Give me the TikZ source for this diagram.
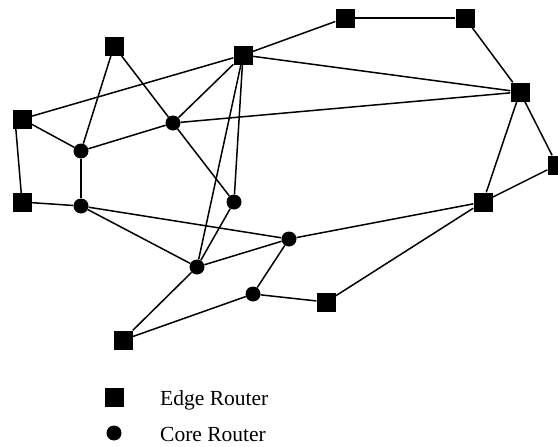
\documentclass[tikz,border=0pt]{standalone}
\usepackage{fontspec}
\setmainfont{Liberation Serif}
\begin{document}
\begin{tikzpicture}[x=1pt,y=-1pt,
  edgerouter/.style={rectangle,fill=black,inner sep=0pt,minimum size=19pt},
  corerouter/.style={circle,fill=black,inner sep=0pt,minimum size=15pt},
  link/.style={line width=1.5pt,black},
  legendtext/.style={anchor=base west,inner sep=0pt,font=\fontsize{21.5}{26}\selectfont}]
\useasboundingbox (0,0) rectangle (558,447);
\clip (0,0) rectangle (558,447);
% edge routers
\node[edgerouter] (s1) at (114,46) {};
\node[edgerouter] (s2) at (243,55) {};
\node[edgerouter] (s3) at (345,18) {};
\node[edgerouter] (s4) at (465,18) {};
\node[edgerouter] (s5) at (520,92) {};
\node[edgerouter] (s6) at (557,165) {};
\node[edgerouter] (s7) at (22,119) {};
\node[edgerouter] (s8) at (22,202) {};
\node[edgerouter] (s9) at (326,302) {};
\node[edgerouter] (s10) at (123,340) {};
\node[edgerouter] (s11) at (483,202) {};
% core routers
\node[corerouter] (c1) at (173,123) {};
\node[corerouter] (c2) at (81,151) {};
\node[corerouter] (c3) at (81,206) {};
\node[corerouter] (c4) at (234,202) {};
\node[corerouter] (c5) at (289,239) {};
\node[corerouter] (c6) at (197,267) {};
\node[corerouter] (c7) at (253,294) {};
\coordinate (s7left) at ([xshift=-7pt]s7.center);
% links
\draw[link] (s1) -- (c2);
\draw[link] (s1) -- (c1);
\draw[link] (c1) -- (c4);
\draw[link] (s7) -- (s2);
\draw[link] (s7) -- (c2);
\draw[link] (s7left) -- (s8.center);
\draw[link] (s8) -- (c3);
\draw[link] (c2) -- (c3);
\draw[link] (c2) -- (c1);
\draw[link] (c1) -- (s2);
\draw[link] (c1) -- (s5);
\draw[link] (s2) -- (c6);
\draw[link] (s2) -- (c4);
\draw[link] (c4) -- (c6);
\draw[link] (c3) -- (c5);
\draw[link] (c3) -- (c6);
\draw[link] (c6) -- (c5);
\draw[link] (c5) -- (c7);
\draw[link] (c7) -- (s9);
\draw[link] (s9) -- (s11);
\draw[link] (c5) -- (s11);
\draw[link] (c6) -- (s10);
\draw[link] (s10) -- (c7);
\draw[link] (s2) -- (s3);
\draw[link] (s3) -- (s4);
\draw[link] (s4) -- (s5);
\draw[link] (s2) -- (s5);
\draw[link] (s5) -- (s11);
\draw[link] (s5) -- (s6);
\draw[link] (s6) -- (s11);
% legend
\node[edgerouter] (legedge) at (114,397) {};
\node[corerouter] (legcore) at (114,433) {};
\node[legendtext] (legedgetext) at (160,405) {Edge Router};
\node[legendtext] (legcoretext) at (160,441) {Core Router};
\end{tikzpicture}
\end{document}
